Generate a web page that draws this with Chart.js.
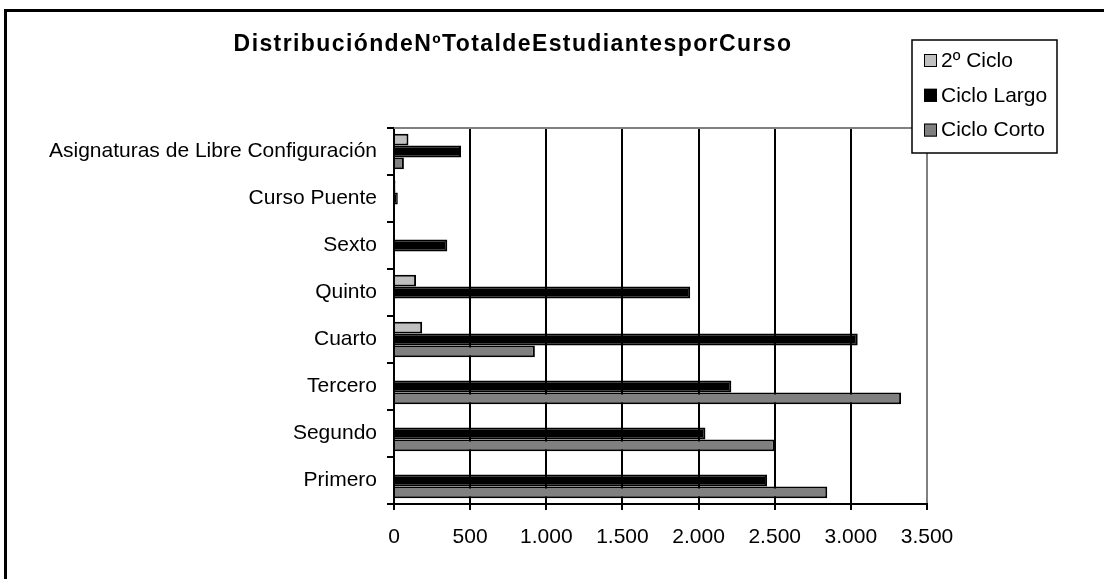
<!DOCTYPE html>
<html>
<head>
<meta charset="utf-8">
<script src="https://cdn.jsdelivr.net/npm/chart.js@4"></script>
<style>
    body { margin: 0; background: #fff; }
    canvas { display: block; }
</style>
</head>
<body>
<canvas id="cursoChart" width="1104" height="579"></canvas>
<script>
// Datos
const cursos = ['Asignaturas de Libre Configuración', 'Curso Puente', 'Sexto', 'Quinto', 'Cuarto', 'Tercero', 'Segundo', 'Primero'];
const segundoCiclo = [95, 10, 0, 145, 185, 0, 0, 0];
const cicloLargo = [440, 25, 350, 1945, 3045, 2215, 2045, 2450];
const cicloCorto = [65, 0, 0, 0, 925, 3330, 2500, 2845];
const ejeX = [0, 500, 1000, 1500, 2000, 2500, 3000, 3500];
const titulo = 'DistribucióndeNºTotaldeEstudiantesporCurso';

const FONT = "'Liberation Sans', Arial, sans-serif";

function miles(v) {
    return String(v).replace(/\B(?=(\d{3})+(?!\d))/g, '.');
}

// marco, título, borde superior y leyenda
const decoracion = {
    id: 'decoracion',
    beforeDraw(chart) {
        const ctx = chart.ctx;
        ctx.save();
        ctx.fillStyle = '#fff';
        ctx.fillRect(0, 0, chart.width, chart.height);
        ctx.fillStyle = '#000';
        ctx.fillRect(4, 9, chart.width, 3);
        ctx.fillRect(4, 9, 3, chart.height);
        ctx.restore();
    },
    afterDraw(chart) {
        const ctx = chart.ctx;
        const area = chart.chartArea;
        ctx.save();

        // borde superior del área de trazado
        ctx.strokeStyle = '#808080';
        ctx.lineWidth = 2;
        ctx.beginPath();
        ctx.moveTo(area.left, area.top);
        ctx.lineTo(area.right, area.top);
        ctx.stroke();

        // título
        ctx.fillStyle = '#000';
        ctx.font = 'bold 23px ' + FONT;
        ctx.textAlign = 'center';
        ctx.textBaseline = 'alphabetic';
        ctx.letterSpacing = '1.4px';
        ctx.fillText(titulo, 513, 51);
        ctx.letterSpacing = '0px';

        // leyenda
        const lx = 912, ly = 40, lw = 145, lh = 113;
        ctx.fillStyle = '#fff';
        ctx.fillRect(lx, ly, lw, lh);
        ctx.strokeStyle = '#000';
        ctx.lineWidth = 1.5;
        ctx.strokeRect(lx, ly, lw, lh);
        ctx.font = '21px ' + FONT;
        ctx.textAlign = 'left';
        ctx.textBaseline = 'middle';
        chart.data.datasets.forEach((ds, i) => {
            const cy = 60 + i * 34.8;
            ctx.fillStyle = ds.backgroundColor;
            ctx.fillRect(924, cy - 6, 13, 13);
            ctx.strokeStyle = '#000';
            ctx.lineWidth = 1;
            ctx.strokeRect(924.5, cy - 5.5, 12, 12);
            ctx.fillStyle = '#000';
            ctx.fillText(ds.label, 941, cy + 1);
        });
        ctx.restore();
    }
};

new Chart(document.getElementById('cursoChart'), {
    type: 'bar',
    data: {
        labels: cursos,
        datasets: [
            { label: '2º Ciclo', data: segundoCiclo, backgroundColor: '#c0c0c0' },
            { label: 'Ciclo Largo', data: cicloLargo, backgroundColor: '#000000' },
            { label: 'Ciclo Corto', data: cicloCorto, backgroundColor: '#808080' }
        ]
    },
    options: {
        indexAxis: 'y',
        responsive: false,
        animation: false,
        layout: {
            padding: { top: 128, right: 177, bottom: 0, left: 0 }
        },
        datasets: {
            bar: {
                borderColor: '#000',
                borderWidth: 2,
                categoryPercentage: 0.76,
                barPercentage: 1.0
            }
        },
        plugins: {
            legend: { display: false },
            title: { display: false },
            tooltip: { enabled: false }
        },
        scales: {
            x: {
                min: 0,
                max: 3500,
                afterFit(scale) { scale.height = 75; },
                afterBuildTicks(scale) {
                    scale.ticks = ejeX.map(v => ({ value: v }));
                },
                border: { color: '#000', width: 2 },
                grid: {
                    color: ctx => (ctx.tick && ctx.tick.value === 3500) ? '#808080' : '#000',
                    lineWidth: 2,
                    tickLength: 6,
                    tickColor: '#000',
                    tickWidth: 2
                },
                ticks: {
                    color: '#000',
                    font: { family: FONT, size: 21 },
                    padding: 15,
                    maxRotation: 0,
                    callback: v => miles(v)
                }
            },
            y: {
                afterFit(scale) { scale.width = 394; },
                border: { color: '#000', width: 2 },
                grid: {
                    offset: true,
                    drawOnChartArea: false,
                    tickLength: 7,
                    color: '#000',
                    lineWidth: 2
                },
                ticks: {
                    color: '#000',
                    font: { family: FONT, size: 21 },
                    padding: 10
                }
            }
        }
    },
    plugins: [decoracion]
});
</script>
</body>
</html>
